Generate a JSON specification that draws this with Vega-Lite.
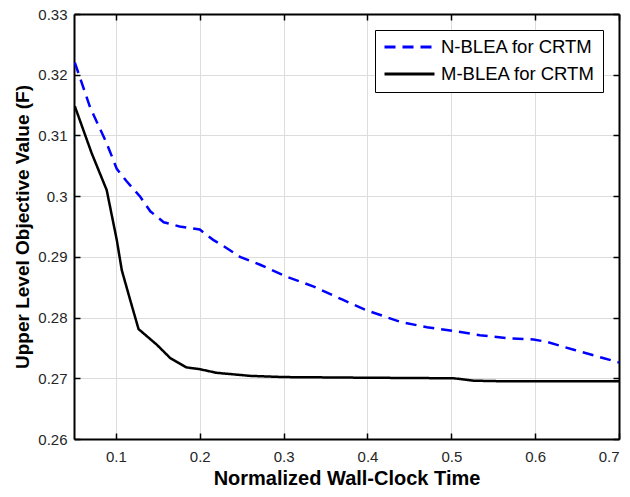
{
  "$schema": "https://vega.github.io/schema/vega-lite/v6.json",
  "width": 545,
  "height": 425,
  "autosize": {"type": "none"},
  "padding": {"left": 74, "top": 14, "right": 11, "bottom": 58},
  "background": "white",
  "config": {
    "view": {"stroke": null},
    "font": "Liberation Sans",
    "axis": {
      "domainColor": "#000000",
      "domainWidth": 2,
      "tickColor": "#000000",
      "tickWidth": 1.5,
      "tickSize": -6,
      "labelFont": "Liberation Sans",
      "labelFontSize": 15,
      "labelColor": "#262626",
      "titleFont": "Liberation Sans",
      "titleFontSize": 19,
      "titleFontWeight": "bold",
      "titleColor": "#000000",
      "gridColor": "#dcdcdc",
      "gridWidth": 1
    }
  },
  "data": {
    "values": [
      {"series": "N-BLEA for CRTM", "t": 0.051, "v": 0.3220},
      {"series": "N-BLEA for CRTM", "t": 0.069, "v": 0.3147},
      {"series": "N-BLEA for CRTM", "t": 0.089, "v": 0.3087},
      {"series": "N-BLEA for CRTM", "t": 0.101, "v": 0.3045},
      {"series": "N-BLEA for CRTM", "t": 0.113, "v": 0.3024},
      {"series": "N-BLEA for CRTM", "t": 0.129, "v": 0.2999},
      {"series": "N-BLEA for CRTM", "t": 0.141, "v": 0.2975},
      {"series": "N-BLEA for CRTM", "t": 0.157, "v": 0.2957},
      {"series": "N-BLEA for CRTM", "t": 0.176, "v": 0.2950},
      {"series": "N-BLEA for CRTM", "t": 0.200, "v": 0.2945},
      {"series": "N-BLEA for CRTM", "t": 0.216, "v": 0.2928},
      {"series": "N-BLEA for CRTM", "t": 0.228, "v": 0.2918},
      {"series": "N-BLEA for CRTM", "t": 0.248, "v": 0.2900},
      {"series": "N-BLEA for CRTM", "t": 0.272, "v": 0.2887},
      {"series": "N-BLEA for CRTM", "t": 0.304, "v": 0.2867},
      {"series": "N-BLEA for CRTM", "t": 0.336, "v": 0.2851},
      {"series": "N-BLEA for CRTM", "t": 0.371, "v": 0.2829},
      {"series": "N-BLEA for CRTM", "t": 0.399, "v": 0.2812},
      {"series": "N-BLEA for CRTM", "t": 0.439, "v": 0.2793},
      {"series": "N-BLEA for CRTM", "t": 0.471, "v": 0.2784},
      {"series": "N-BLEA for CRTM", "t": 0.503, "v": 0.2778},
      {"series": "N-BLEA for CRTM", "t": 0.534, "v": 0.2771},
      {"series": "N-BLEA for CRTM", "t": 0.566, "v": 0.2766},
      {"series": "N-BLEA for CRTM", "t": 0.598, "v": 0.2764},
      {"series": "N-BLEA for CRTM", "t": 0.614, "v": 0.2760},
      {"series": "N-BLEA for CRTM", "t": 0.646, "v": 0.2747},
      {"series": "N-BLEA for CRTM", "t": 0.682, "v": 0.2733},
      {"series": "N-BLEA for CRTM", "t": 0.700, "v": 0.2726},
      {"series": "M-BLEA for CRTM", "t": 0.051, "v": 0.3148},
      {"series": "M-BLEA for CRTM", "t": 0.071, "v": 0.3071},
      {"series": "M-BLEA for CRTM", "t": 0.089, "v": 0.3010},
      {"series": "M-BLEA for CRTM", "t": 0.101, "v": 0.2928},
      {"series": "M-BLEA for CRTM", "t": 0.107, "v": 0.2878},
      {"series": "M-BLEA for CRTM", "t": 0.117, "v": 0.2829},
      {"series": "M-BLEA for CRTM", "t": 0.127, "v": 0.2781},
      {"series": "M-BLEA for CRTM", "t": 0.149, "v": 0.2755},
      {"series": "M-BLEA for CRTM", "t": 0.165, "v": 0.2733},
      {"series": "M-BLEA for CRTM", "t": 0.184, "v": 0.2718},
      {"series": "M-BLEA for CRTM", "t": 0.200, "v": 0.2715},
      {"series": "M-BLEA for CRTM", "t": 0.220, "v": 0.2709},
      {"series": "M-BLEA for CRTM", "t": 0.260, "v": 0.2704},
      {"series": "M-BLEA for CRTM", "t": 0.300, "v": 0.2702},
      {"series": "M-BLEA for CRTM", "t": 0.391, "v": 0.2701},
      {"series": "M-BLEA for CRTM", "t": 0.503, "v": 0.2700},
      {"series": "M-BLEA for CRTM", "t": 0.527, "v": 0.2696},
      {"series": "M-BLEA for CRTM", "t": 0.566, "v": 0.2695},
      {"series": "M-BLEA for CRTM", "t": 0.700, "v": 0.2695}
    ]
  },
  "layer": [
    {
      "mark": {"type": "line", "strokeWidth": 2.5, "clip": true},
      "encoding": {
        "x": {
          "field": "t",
          "type": "quantitative",
          "scale": {"domain": [0.05, 0.7], "nice": false, "zero": false},
          "axis": {
            "orient": "bottom",
            "title": "Normalized Wall-Clock Time",
            "titleFontSize": 20,
            "values": [0.1, 0.2, 0.3, 0.4, 0.5, 0.6, 0.7],
            "format": "~g",
            "grid": true,
            "labelPadding": 16,
            "titlePadding": 4
          }
        },
        "y": {
          "field": "v",
          "type": "quantitative",
          "scale": {"domain": [0.26, 0.33], "nice": false, "zero": false},
          "axis": {
            "orient": "left",
            "title": "Upper Level Objective Value (F)",
            "values": [0.26, 0.27, 0.28, 0.29, 0.3, 0.31, 0.32, 0.33],
            "format": "~g",
            "grid": true,
            "labelPadding": 13,
            "titlePadding": 5
          }
        },
        "color": {
          "field": "series",
          "type": "nominal",
          "scale": {"domain": ["N-BLEA for CRTM", "M-BLEA for CRTM"], "range": ["#0000ff", "#000000"]},
          "legend": {
            "title": null,
            "orient": "top-right",
            "offset": 16,
            "padding": 8,
            "fillColor": "white",
            "strokeColor": "#000000",
            "symbolType": "stroke",
            "symbolSize": 2500,
            "symbolStrokeWidth": 3,
            "clipHeight": 18,
            "labelFont": "Liberation Sans",
            "labelFontSize": 18.5,
            "labelColor": "#000000",
            "labelOffset": 5,
            "rowPadding": 8
          }
        },
        "strokeDash": {
          "field": "series",
          "type": "nominal",
          "scale": {"domain": ["N-BLEA for CRTM", "M-BLEA for CRTM"], "range": [[11, 7], [1, 0]]},
          "legend": {
            "title": null,
            "orient": "top-right",
            "offset": 16,
            "padding": 8,
            "fillColor": "white",
            "strokeColor": "#000000",
            "symbolType": "stroke",
            "symbolSize": 2500,
            "symbolStrokeWidth": 3,
            "clipHeight": 18,
            "labelFont": "Liberation Sans",
            "labelFontSize": 18.5,
            "labelColor": "#000000",
            "labelOffset": 5,
            "rowPadding": 8
          }
        }
      }
    },
    {
      "mark": {"type": "point", "opacity": 0},
      "encoding": {
        "x": {
          "field": "t",
          "type": "quantitative",
          "axis": {
            "orient": "top",
            "title": null,
            "values": [0.1, 0.2, 0.3, 0.4, 0.5, 0.6, 0.7],
            "labels": false,
            "grid": false
          }
        },
        "y": {
          "field": "v",
          "type": "quantitative",
          "axis": {
            "orient": "right",
            "title": null,
            "values": [0.26, 0.27, 0.28, 0.29, 0.3, 0.31, 0.32, 0.33],
            "labels": false,
            "grid": false
          }
        }
      }
    }
  ],
  "resolve": {"axis": {"x": "independent", "y": "independent"}}
}
